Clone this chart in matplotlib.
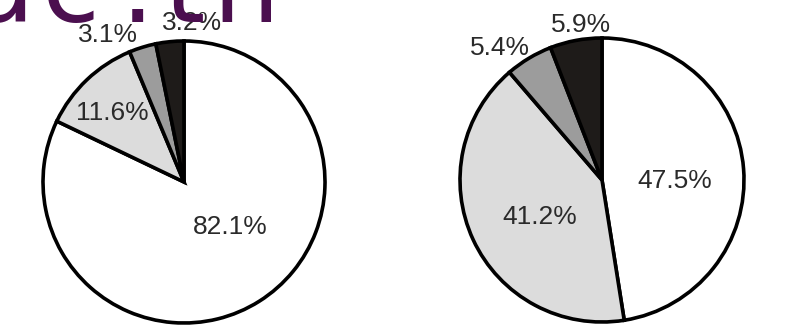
import matplotlib
matplotlib.use("Agg")
import matplotlib.pyplot as plt
import numpy as np

# Data
left_values = [82.1, 11.6, 3.1, 3.2]
right_values = [47.5, 41.2, 5.4, 5.9]
left_labels = ["82.1%", "11.6%", "3.1%", "3.2%"]
right_labels = ["47.5%", "41.2%", "5.4%", "5.9%"]
colors = ["#ffffff", "#dcdcdc", "#9c9c9c", "#1e1b19"]

# label placement (style): offsets in unit-radius coordinates
left_label_pos = [(0.33, -0.32), (-0.51, 0.49), (-0.54, 1.04), (0.06, 1.13)]
right_label_pos = [(0.51, -0.01), (-0.44, -0.26), (-0.72, 0.93), (-0.15, 1.09)]

# watermark characters and their pixel centres (style)
wm_chars = ["a", "c", ".", "t", "h"]
wm_x = [2, 70, 137, 184, 246]

W, H = 789, 325
fig = plt.figure(figsize=(W / 100, H / 100), dpi=100)
fig.patch.set_facecolor("white")


def add_pie(cx, cy, r, values, labels, label_pos):
    ax = fig.add_axes([(cx - r) / W, (H - cy - r) / H, 2 * r / W, 2 * r / H])
    ax.pie(values, colors=colors, startangle=90, counterclock=False,
           radius=1.0,
           wedgeprops=dict(edgecolor="black", linewidth=2.6),
           frame=False)
    ax.set_xlim(-1, 1)
    ax.set_ylim(-1, 1)
    ax.set_aspect("equal")
    ax.axis("off")
    for lab, (x, y) in zip(labels, label_pos):
        ax.text(x, y, lab, ha="center", va="center", fontsize=19,
                family=["Liberation Sans", "DejaVu Sans"], color="#2a2a2a",
                clip_on=False, zorder=5)
    return ax


add_pie(184, 182, 141, left_values, left_labels, left_label_pos)
add_pie(602, 180, 142, right_values, right_labels, right_label_pos)

# Watermark text at top-left (cut off)
for ch, x in zip(wm_chars, wm_x):
    fig.text(x / W, 1 - 22 / H, ch, ha="center", va="baseline",
             fontsize=76, family=["DejaVu Sans"], fontweight="normal",
             color="#4b0f4f", zorder=10)

fig.savefig("out.png", dpi=100, facecolor="white")
